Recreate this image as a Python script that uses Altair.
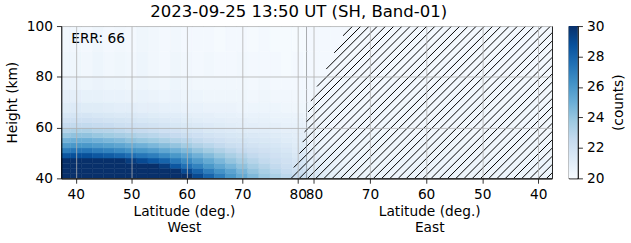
import altair as alt
import numpy as np
import pandas as pd

title_text = "2023-09-25 13:50 UT (SH, Band-01)"
err_text = "ERR: 66"
color_label = "(counts)"

height_edges = [40, 42, 44, 46, 48, 50, 52, 54, 56, 58, 60, 62, 64, 66, 70, 75, 80, 90, 100]
west_lat_edges = [37, 39, 41, 43, 45, 47, 49, 51, 53, 55, 57, 59, 61, 63, 65, 67, 69, 71, 73, 75, 77, 79, 81, 82]
east_lat_edges = [82, 81, 79, 77, 75, 73, 71, 69, 67, 65, 63, 61, 59, 57, 55, 53, 51, 49, 47, 45, 43, 41, 39, 37]

# rows bottom (40 km) -> top (100 km); columns follow the lat edges above
west_values = [
    [31, 31, 31, 31, 31, 31, 31, 31, 31, 31, 30.5, 30, 29, 28, 27, 26, 25.2, 24.5, 23.8, 23.3, 22.8, 22.5, 22.3],
    [31, 31, 31, 31, 31, 31, 31, 31, 31, 30.5, 30, 29, 28, 27, 26.2, 25.5, 24.7, 24.0, 23.4, 22.9, 22.5, 22.2, 22.0],
    [31, 31, 31, 31, 31, 31, 31, 30.5, 30, 29.5, 28.5, 27.5, 26.8, 26, 25.3, 24.7, 24.1, 23.5, 23.0, 22.6, 22.2, 21.9, 21.8],
    [30.5, 30.5, 30.5, 30.5, 30.5, 30, 29.5, 29, 28.5, 28, 27.2, 26.5, 25.8, 25.2, 24.6, 24.0, 23.5, 23.0, 22.6, 22.3, 22.0, 21.7, 21.6],
    [28.5, 28.8, 28.8, 28.5, 28.3, 28.0, 27.6, 27.3, 27.0, 26.5, 26.0, 25.5, 24.9, 24.4, 23.9, 23.4, 23.0, 22.6, 22.3, 22.0, 21.8, 21.5, 21.4],
    [27.0, 27.3, 27.3, 27.0, 26.8, 26.5, 26.2, 26.0, 25.7, 25.3, 24.9, 24.5, 24.0, 23.6, 23.2, 22.8, 22.5, 22.2, 22.0, 21.8, 21.6, 21.3, 21.2],
    [25.8, 26.0, 26.0, 25.8, 25.6, 25.4, 25.1, 24.9, 24.6, 24.3, 24.0, 23.6, 23.2, 22.9, 22.6, 22.3, 22.1, 21.9, 21.7, 21.6, 21.4, 21.2, 21.1],
    [24.8, 25.0, 25.0, 24.8, 24.6, 24.4, 24.1, 23.9, 23.7, 23.4, 23.1, 22.9, 22.6, 22.3, 22.1, 21.9, 21.8, 21.6, 21.5, 21.4, 21.2, 21.1, 21.0],
    [23.9, 24.1, 24.1, 23.9, 23.7, 23.5, 23.3, 23.1, 22.9, 22.7, 22.5, 22.3, 22.1, 21.9, 21.7, 21.6, 21.5, 21.4, 21.3, 21.2, 21.1, 21.0, 20.9],
    [23.1, 23.3, 23.3, 23.1, 23.0, 22.8, 22.6, 22.5, 22.3, 22.1, 22.0, 21.8, 21.7, 21.5, 21.4, 21.3, 21.2, 21.1, 21.1, 21.0, 20.9, 20.9, 20.8],
    [22.5, 22.6, 22.6, 22.5, 22.4, 22.2, 22.1, 22.0, 21.9, 21.7, 21.6, 21.5, 21.4, 21.3, 21.2, 21.1, 21.0, 21.0, 20.9, 20.9, 20.8, 20.8, 20.7],
    [22.0, 22.1, 22.1, 22.0, 21.9, 21.8, 21.7, 21.6, 21.5, 21.4, 21.3, 21.2, 21.1, 21.0, 21.0, 20.9, 20.9, 20.8, 20.8, 20.7, 20.7, 20.7, 20.6],
    [21.6, 21.7, 21.7, 21.6, 21.5, 21.4, 21.4, 21.3, 21.2, 21.1, 21.1, 21.0, 20.9, 20.9, 20.8, 20.8, 20.7, 20.7, 20.7, 20.6, 20.6, 20.6, 20.5],
    [21.2, 21.3, 21.2, 21.2, 21.1, 21.0, 21.0, 20.9, 20.9, 20.8, 20.8, 20.7, 20.7, 20.6, 20.6, 20.6, 20.5, 20.5, 20.5, 20.5, 20.4, 20.4, 20.4],
    [20.9, 20.9, 20.8, 20.8, 20.7, 20.7, 20.6, 20.7, 20.6, 20.5, 20.6, 20.5, 20.5, 20.4, 20.4, 20.4, 20.4, 20.3, 20.4, 20.3, 20.3, 20.3, 20.3],
    [20.6, 20.6, 20.5, 20.6, 20.5, 20.5, 20.4, 20.5, 20.4, 20.3, 20.5, 20.4, 20.3, 20.3, 20.3, 20.3, 20.3, 20.2, 20.3, 20.2, 20.2, 20.2, 20.2],
    [20.4, 20.4, 20.3, 20.5, 20.3, 20.4, 20.3, 20.5, 20.3, 20.2, 20.4, 20.3, 20.2, 20.3, 20.2, 20.2, 20.3, 20.2, 20.2, 20.2, 20.1, 20.2, 20.1],
    [20.3, 20.3, 20.2, 20.4, 20.2, 20.3, 20.2, 20.4, 20.3, 20.2, 20.3, 20.2, 20.2, 20.2, 20.1, 20.2, 20.2, 20.1, 20.2, 20.1, 20.1, 20.1, 20.1],
]

east_values = [
    [22.0, 21.6, 21.2, 20.9, 20.7, 20.6, 20.6, 20.5, 20.5, 20.5, 20.5, 20.5, 20.5, 20.5, 20.5, 20.5, 20.5, 20.5, 20.5, 20.5, 20.5, 20.5, 20.5],
    [21.8, 21.4, 21.0, 20.8, 20.6, 20.6, 20.5, 20.5, 20.5, 20.5, 20.5, 20.5, 20.5, 20.5, 20.5, 20.5, 20.5, 20.5, 20.5, 20.5, 20.5, 20.5, 20.5],
    [21.6, 21.2, 20.9, 20.7, 20.6, 20.5, 20.5, 20.5, 20.5, 20.5, 20.5, 20.5, 20.5, 20.5, 20.5, 20.5, 20.5, 20.5, 20.5, 20.5, 20.5, 20.5, 20.5],
    [21.4, 21.0, 20.8, 20.6, 20.5, 20.5, 20.5, 20.5, 20.5, 20.5, 20.5, 20.5, 20.5, 20.5, 20.5, 20.5, 20.5, 20.5, 20.5, 20.5, 20.5, 20.5, 20.5],
    [21.2, 20.9, 20.7, 20.6, 20.5, 20.5, 20.5, 20.4, 20.4, 20.4, 20.4, 20.4, 20.4, 20.4, 20.4, 20.4, 20.4, 20.4, 20.4, 20.4, 20.4, 20.4, 20.4],
    [21.0, 20.8, 20.6, 20.5, 20.5, 20.4, 20.4, 20.4, 20.4, 20.4, 20.4, 20.4, 20.4, 20.4, 20.4, 20.4, 20.4, 20.4, 20.4, 20.4, 20.4, 20.4, 20.4],
    [20.9, 20.7, 20.5, 20.5, 20.4, 20.4, 20.4, 20.4, 20.4, 20.4, 20.4, 20.4, 20.4, 20.4, 20.4, 20.4, 20.4, 20.4, 20.4, 20.4, 20.4, 20.4, 20.4],
    [20.8, 20.6, 20.5, 20.4, 20.4, 20.4, 20.4, 20.4, 20.4, 20.4, 20.4, 20.4, 20.4, 20.4, 20.4, 20.4, 20.4, 20.4, 20.4, 20.4, 20.4, 20.4, 20.4],
    [20.7, 20.6, 20.5, 20.4, 20.4, 20.4, 20.4, 20.4, 20.3, 20.3, 20.3, 20.3, 20.3, 20.3, 20.3, 20.3, 20.3, 20.3, 20.3, 20.3, 20.3, 20.3, 20.3],
    [20.7, 20.5, 20.4, 20.4, 20.3, 20.3, 20.3, 20.3, 20.3, 20.3, 20.3, 20.3, 20.3, 20.3, 20.3, 20.3, 20.3, 20.3, 20.3, 20.3, 20.3, 20.3, 20.3],
    [20.6, 20.5, 20.4, 20.3, 20.3, 20.3, 20.3, 20.3, 20.3, 20.3, 20.3, 20.3, 20.3, 20.3, 20.3, 20.3, 20.3, 20.3, 20.3, 20.3, 20.3, 20.3, 20.3],
    [20.6, 20.4, 20.4, 20.3, 20.3, 20.3, 20.3, 20.3, 20.3, 20.3, 20.3, 20.3, 20.3, 20.3, 20.3, 20.3, 20.3, 20.3, 20.3, 20.3, 20.3, 20.3, 20.3],
    [20.5, 20.4, 20.3, 20.3, 20.3, 20.3, 20.3, 20.3, 20.3, 20.3, 20.3, 20.3, 20.3, 20.3, 20.3, 20.3, 20.3, 20.3, 20.3, 20.3, 20.3, 20.3, 20.3],
    [20.5, 20.4, 20.3, 20.3, 20.3, 20.3, 20.3, 20.3, 20.3, 20.3, 20.3, 20.3, 20.3, 20.3, 20.3, 20.3, 20.3, 20.3, 20.3, 20.3, 20.3, 20.3, 20.3],
    [20.4, 20.3, 20.3, 20.3, 20.3, 20.3, 20.3, 20.3, 20.3, 20.3, 20.3, 20.3, 20.3, 20.3, 20.3, 20.3, 20.3, 20.3, 20.3, 20.3, 20.3, 20.3, 20.3],
    [20.3, 20.3, 20.3, 20.2, 20.3, 20.2, 20.3, 20.2, 20.3, 20.2, 20.3, 20.2, 20.3, 20.2, 20.3, 20.2, 20.3, 20.2, 20.3, 20.2, 20.3, 20.2, 20.3],
    [20.3, 20.2, 20.2, 20.2, 20.2, 20.2, 20.2, 20.2, 20.2, 20.2, 20.2, 20.2, 20.2, 20.2, 20.2, 20.2, 20.2, 20.2, 20.2, 20.2, 20.2, 20.2, 20.2],
    [20.2, 20.2, 20.2, 20.2, 20.2, 20.2, 20.2, 20.2, 20.2, 20.2, 20.2, 20.2, 20.2, 20.2, 20.2, 20.2, 20.2, 20.2, 20.2, 20.2, 20.2, 20.2, 20.2],
]

# edge of the hatched (masked) region
boundary_side = ["W", "W", "W", "E", "E", "E", "E", "E", "E"]
boundary_lat = [78.3, 80.0, 81.0, 81.2, 80.3, 78.2, 76.2, 74.1, 73.9]
boundary_height = [40.0, 47.4, 55.2, 64.9, 72.7, 81.3, 90.3, 99.2, 100.0]

west_ticks = [40, 50, 60, 70, 80]
east_ticks = [80, 70, 60, 50, 40]
height_ticks = [40, 60, 80, 100]
cbar_ticks = [20, 22, 24, 26, 28, 30]
# matplotlib "Blues" colour stops
blues = ["#f7fbff", "#deebf7", "#c6dbef", "#9ecae1", "#6baed6",
         "#4292c6", "#2171b5", "#08519c", "#08306b"]
blues_stops = [20, 21.25, 22.5, 23.75, 25, 26.25, 27.5, 28.75, 30]

# ---- layout constants ----
PW, PH = 248, 154
WEST_DOM = [37.38, 81.6]
EAST_DOM = [81.31, 37.58]
H_DOM = [40, 100]
FONT = "DejaVu Sans"
GRID = "#b0b0b0"


def cells(lat_edges, values):
    rows = []
    for i in range(len(height_edges) - 1):
        for j in range(len(lat_edges) - 1):
            rows.append({"lat_lo": lat_edges[j], "lat_hi": lat_edges[j + 1],
                         "h_lo": height_edges[i], "h_hi": height_edges[i + 1],
                         "value": values[i][j]})
    return pd.DataFrame(rows)


def to_px(side, lat):
    if side == "W":
        return (lat - WEST_DOM[0]) / (WEST_DOM[1] - WEST_DOM[0]) * PW
    return PW + (EAST_DOM[0] - lat) / (EAST_DOM[0] - EAST_DOM[1]) * PW


def west_lat(px):
    return WEST_DOM[0] + px / PW * (WEST_DOM[1] - WEST_DOM[0])


def east_lat(px):
    return EAST_DOM[0] - (px - PW) / PW * (EAST_DOM[0] - EAST_DOM[1])


# hatch lines ("///") right of the boundary
bpx = np.array([to_px(s, l) for s, l in zip(boundary_side, boundary_lat)])
bhp = (np.array(boundary_height) - H_DOM[0]) / (H_DOM[1] - H_DOM[0]) * PH
hp = np.linspace(0, PH, 800)
bx = np.interp(hp, bhp, bpx)
spacing = 100 / 12
hatch_rows = []
c = -PH + 3.0
while c < 2 * PW + 5:
    f = bx - c - hp
    if f[-1] < 0:
        if f[0] <= 0:
            hs = 0.0
        else:
            hs = float(np.interp(0, -f, hp))
        xs, xe = c + hs, c + PH
        hatch_rows.append({"xw1": west_lat(xs), "xw2": west_lat(xe),
                           "xe1": east_lat(xs), "xe2": east_lat(xe),
                           "y1": H_DOM[0] + hs / PH * 60, "y2": H_DOM[1]})
    c += spacing
hatch_df = pd.DataFrame(hatch_rows)

cscale = alt.Scale(domain=blues_stops, range=blues, clamp=True, interpolate="rgb")
yscale = alt.Scale(domain=H_DOM, nice=False, zero=False)


def panel(lat_edges, values, dom, ticks, side_name, hx1, hx2, show_y):
    xscale = alt.Scale(domain=dom, nice=False, zero=False)
    xaxis = alt.Axis(values=ticks, title=["Latitude (deg.)", side_name], grid=True,
                     gridColor=GRID, gridWidth=0.8, format="d", titleLineHeight=16, zindex=1)
    if show_y:
        yaxis = alt.Axis(values=height_ticks, title="Height (km)", grid=True, gridColor=GRID,
                         gridWidth=0.8, titlePadding=7, zindex=1)
    else:
        yaxis = alt.Axis(values=height_ticks, title=None, labels=False, ticks=False,
                         domain=False, grid=True, gridColor=GRID, gridWidth=0.8, zindex=1)
    heat = alt.Chart(cells(lat_edges, values)).mark_rect(clip=True, strokeWidth=0.5).encode(
        x=alt.X("lat_lo:Q", scale=xscale, axis=xaxis),
        x2="lat_hi:Q",
        y=alt.Y("h_lo:Q", scale=yscale, axis=yaxis),
        y2="h_hi:Q",
        color=alt.Color("value:Q", scale=cscale, legend=None),
        stroke=alt.Stroke("value:Q", scale=cscale, legend=None),
    )
    hatch = alt.Chart(hatch_df).mark_rule(clip=True, color="black", strokeWidth=1).encode(
        x=alt.X(f"{hx1}:Q", scale=xscale, axis=xaxis),
        x2=f"{hx2}:Q",
        y=alt.Y("y1:Q", scale=yscale, axis=yaxis),
        y2="y2:Q",
    )
    layers = [heat, hatch]
    if show_y:
        txt = alt.Chart(pd.DataFrame({"t": [err_text]})).mark_text(
            align="left", baseline="middle", fontSize=13.9, font=FONT, color="black"
        ).encode(text="t:N", x=alt.value(10), y=alt.value(13))
        layers.append(txt)
    return alt.layer(*layers).properties(width=PW, height=PH)


west = panel(west_lat_edges, west_values, WEST_DOM, west_ticks, "West", "xw1", "xw2", True)
east = panel(east_lat_edges, east_values, EAST_DOM, east_ticks, "East", "xe1", "xe2", False)

grad = alt.Gradient(
    gradient="linear",
    stops=[alt.GradientStop(color=col, offset=(v - 20) / 10) for v, col in zip(blues_stops, blues)],
    x1=0, x2=0, y1=1, y2=0,
)
colorbar = alt.Chart(pd.DataFrame({"lo": [20], "hi": [30]})).mark_rect(fill=grad).encode(
    y=alt.Y("lo:Q", scale=alt.Scale(domain=[20, 30], nice=False, zero=False),
            axis=alt.Axis(orient="right", values=cbar_ticks, title=color_label, grid=False,
                          titleAngle=270, titlePadding=8, titleBaseline="top")),
    y2="hi:Q",
).properties(width=9, height=PH)

chart = alt.hconcat(
    alt.hconcat(west, east, spacing=0, bounds="flush"),
    colorbar,
    spacing=15,
).properties(
    title=alt.TitleParams(title_text, fontSize=16.7, font=FONT, fontWeight="normal",
                          anchor="middle", color="black", offset=-2, dx=-17),
    padding={"left": 5, "top": 2, "right": 5, "bottom": 5},
    background="white",
).configure_view(
    stroke="black", strokeWidth=1
).configure_axis(
    labelFont=FONT, titleFont=FONT, labelFontSize=13.9, titleFontSize=13.9,
    titleFontWeight="normal", labelColor="black", titleColor="black",
    tickColor="black", domainColor="black", tickSize=4.9, labelPadding=4,
    domainWidth=1, tickWidth=0.8, titlePadding=4,
)

chart.save("out.html", embed_options={"renderer": "svg", "actions": False})
